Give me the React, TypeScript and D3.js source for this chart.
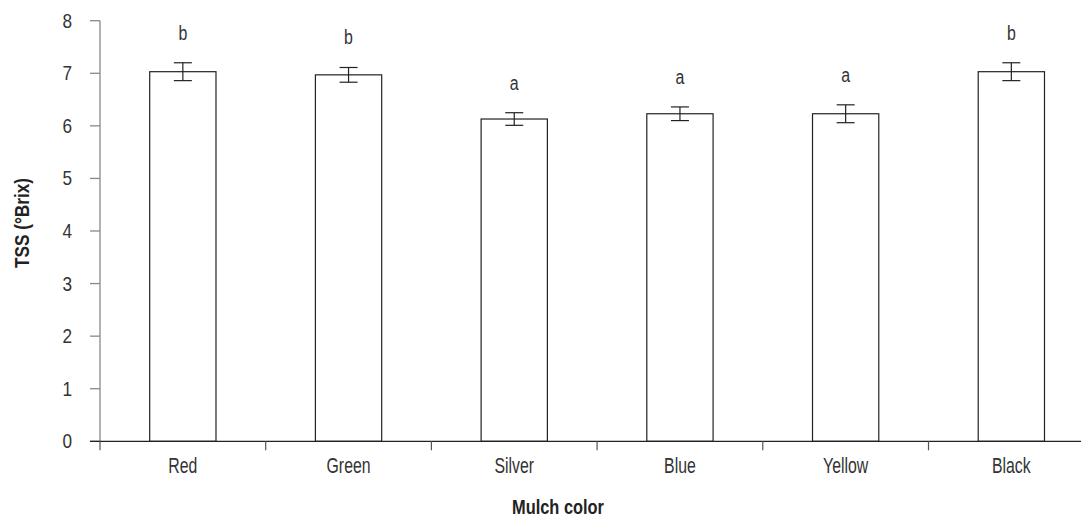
import React, { useEffect, useRef } from "react";
import * as d3 from "d3";

// values
const categories = ["Red", "Green", "Silver", "Blue", "Yellow", "Black"];
const means = [7.03, 6.97, 6.13, 6.23, 6.23, 7.03];
const errors = [0.17, 0.14, 0.12, 0.13, 0.17, 0.17];
const letters = ["b", "b", "a", "a", "a", "b"];
const yTicks = [0, 1, 2, 3, 4, 5, 6, 7, 8];

const FONT = "'Liberation Sans', Arial, sans-serif";

const App = () => {
  const svgRef: any = useRef();

  useEffect(() => {
    const svg = d3.select(svgRef.current);
    svg.selectAll("*").remove();
    const width = 1081;
    const height = 518;
    const left = 100;
    const top = 20.7;
    const bottom = 441.3;
    const step = 165.7;

    const x = d3
      .scaleBand()
      .domain(categories)
      .range([left, left + step * categories.length])
      .paddingInner(0.6)
      .paddingOuter(0.3);
    const y = d3.scaleLinear().domain([0, 8]).range([bottom, top]);

    const g = svg.append("g");

    // the original uses a condensed face, so squeeze Liberation Sans sideways
    const label = (
      parent: any,
      tx: number,
      ty: number,
      txt: string,
      opts: { anchor?: string; bold?: boolean; size?: number; rotate?: number; narrow?: number } = {}
    ) => {
      parent
        .append("g")
        .attr(
          "transform",
          `translate(${tx},${ty}) rotate(${opts.rotate || 0}) scale(${opts.narrow || 0.72},1)`
        )
        .append("text")
        .attr("text-anchor", opts.anchor || "middle")
        .attr("font-family", FONT)
        .attr("font-weight", opts.bold ? "bold" : "normal")
        .attr("font-size", opts.size || 22)
        .attr("fill", opts.bold ? "#222" : "#333")
        .text(txt);
    };

    // y axis
    g.append("line")
      .attr("x1", left)
      .attr("x2", left)
      .attr("y1", y(0))
      .attr("y2", y(8))
      .attr("stroke", "#888")
      .attr("stroke-width", 1.3);
    g.selectAll(".ytick")
      .data(yTicks)
      .join("line")
      .attr("class", "ytick")
      .attr("x1", left - 10)
      .attr("x2", left)
      .attr("y1", (d) => y(d))
      .attr("y2", (d) => y(d))
      .attr("stroke", "#888")
      .attr("stroke-width", 1.3);
    yTicks.forEach((t) =>
      label(g, 72, y(t) + 7, String(t), { anchor: "end", size: 20, narrow: 0.86 })
    );

    // bars
    g.selectAll(".bar")
      .data(categories)
      .join("rect")
      .attr("class", "bar")
      .attr("x", (d) => x(d)!)
      .attr("y", (d, i) => y(means[i]))
      .attr("width", x.bandwidth())
      .attr("height", (d, i) => y(0) - y(means[i]))
      .attr("fill", "#fff")
      .attr("stroke", "#222")
      .attr("stroke-width", 1.2);

    // x axis
    g.append("line")
      .attr("x1", left - 10)
      .attr("x2", width)
      .attr("y1", y(0))
      .attr("y2", y(0))
      .attr("stroke", "#222")
      .attr("stroke-width", 1.3);
    const bounds = d3.range(categories.length).map((i) => left + i * x.step());
    g.selectAll(".xtick")
      .data(bounds)
      .join("line")
      .attr("class", "xtick")
      .attr("x1", (d) => d)
      .attr("x2", (d) => d)
      .attr("y1", y(0))
      .attr("y2", y(0) + 9)
      .attr("stroke", "#555")
      .attr("stroke-width", 1.2);
    categories.forEach((c) => label(g, x(c)! + x.bandwidth() / 2, 473, c));

    // error bars
    const eb = g
      .selectAll(".err")
      .data(categories)
      .join("g")
      .attr("class", "err")
      .attr("transform", (d) => `translate(${x(d)! + x.bandwidth() / 2},0)`);
    eb.append("line")
      .attr("y1", (d, i) => y(means[i] - errors[i]))
      .attr("y2", (d, i) => y(means[i] + errors[i]))
      .attr("stroke", "#222")
      .attr("stroke-width", 1.2);
    eb.append("line")
      .attr("x1", -9)
      .attr("x2", 9)
      .attr("y1", (d, i) => y(means[i] + errors[i]))
      .attr("y2", (d, i) => y(means[i] + errors[i]))
      .attr("stroke", "#222")
      .attr("stroke-width", 1.2);
    eb.append("line")
      .attr("x1", -9)
      .attr("x2", 9)
      .attr("y1", (d, i) => y(means[i] - errors[i]))
      .attr("y2", (d, i) => y(means[i] - errors[i]))
      .attr("stroke", "#222")
      .attr("stroke-width", 1.2);
    categories.forEach((c, i) =>
      label(g, x(c)! + x.bandwidth() / 2, y(means[i] + errors[i]) - 23, letters[i], {
        size: 21,
        narrow: 0.76,
      })
    );

    // axis titles
    label(svg, 29, 223, "TSS (°Brix)", { bold: true, size: 20, rotate: -90, narrow: 0.86 });
    label(svg, 558, 514, "Mulch color", { bold: true, size: 20, narrow: 0.82 });

    svg.attr("width", width).attr("height", height);
  }, []);

  return (
    <svg
      ref={svgRef}
      width={1081}
      height={518}
      style={{ position: "absolute", left: 0, top: 0, background: "#fff" }}
    ></svg>
  );
};

export default App;
